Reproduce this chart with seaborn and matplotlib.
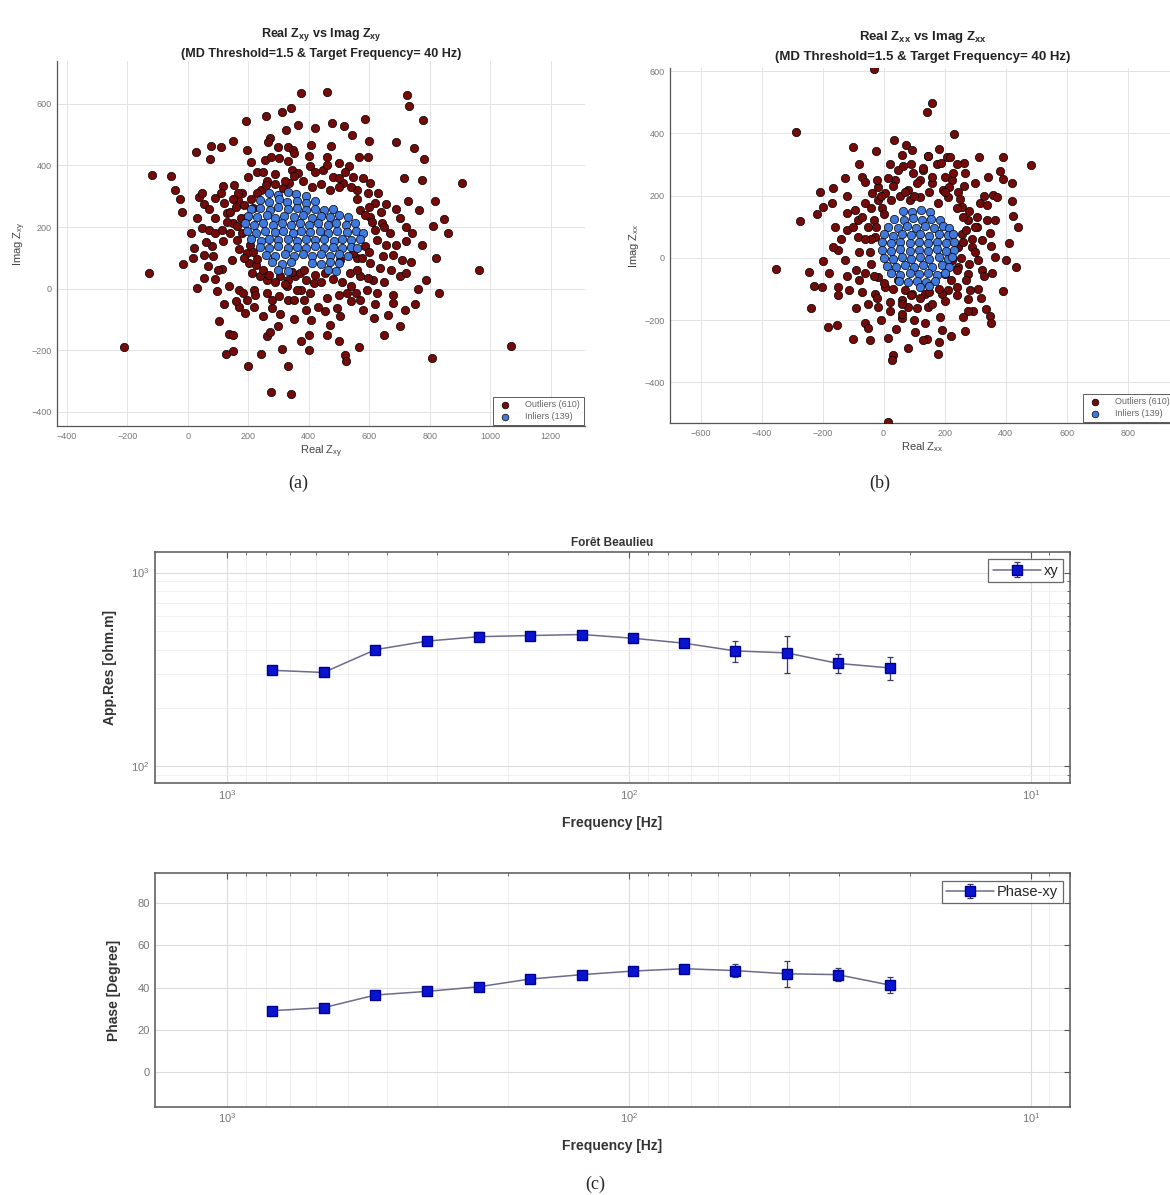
import matplotlib
matplotlib.use('Agg')
import pandas as pd
import seaborn as sns
from matplotlib import pyplot as plt

# ---- (a) Zxy: Real / Imag, outliers and inliers
a_outliers = [
    (374, 635), (313, 575), (341, 588), (192, 543), (365, 530), (324, 516), (27, 445), (77, 464),
    (111, 460), (75, 422), (195, 451), (271, 489), (266, 475), (332, 461), (349, 451), (406, 467),
    (-119, 370), (-56, 365), (-41, 321), (-26, 292), (36, 297), (46, 310), (53, 276), (90, 294),
    (118, 332), (110, 312), (153, 337), (200, 364), (255, 418), (275, 427), (303, 424), (330, 414),
    (346, 386), (365, 375), (405, 399), (120, 278), (129, 245), (165, 289), (179, 310), (48, 197),
    (72, 191), (89, 180), (113, 189), (118, 153), (149, 213), (164, 202), (181, 180), (21, 132),
    (16, 99), (-14, 81), (54, 110), (79, 137), (84, 105), (68, 75), (113, 65), (146, 94), (203, 83),
    (211, 51), (225, 77), (240, 40), (261, 29), (-129, 51), (30, 2), (54, 35), (98, -8), (135, 7),
    (168, -6), (184, -14), (218, -3), (170, -61), (195, -36), (224, -20), (278, -36), (302, -25),
    (330, -36), (278, -63), (305, -83), (352, -36), (383, -36), (374, -3), (403, -14), (105, -106),
    (137, -146), (126, -211), (151, -204), (243, -212), (263, -153), (272, -142), (310, -196),
    (376, -171), (400, -151), (406, -101), (-211, -190), (275, -336), (341, -341), (206, 143),
    (195, 115), (162, 159), (140, 180), (195, 234), (215, 262), (241, 321), (263, 348), (290, 373),
    (314, 326), (336, 343), (305, 40), (330, 29), (355, 40), (370, 51), (329, 7), (360, -3),
    (391, 29), (416, 18), (261, -14),
    (459, 638), (724, 630), (731, 592), (586, 550), (778, 546), (476, 537), (517, 527), (542, 498),
    (688, 475), (748, 456), (472, 462), (566, 427), (595, 427), (459, 427), (501, 408), (534, 397),
    (905, 343), (715, 359), (773, 353), (547, 364), (580, 359), (602, 343), (630, 312), (655, 274),
    (817, 286), (727, 286), (764, 254), (809, 204), (848, 227), (448, 386), (481, 364), (514, 343),
    (558, 321), (597, 310), (619, 278), (569, 256), (602, 234), (641, 213), (668, 180), (690, 143),
    (721, 153), (775, 143), (655, 143), (624, 159), (646, 105), (707, 92), (739, 88), (671, 61),
    (635, 67), (602, 83), (613, 29), (569, 40), (536, 51), (525, -14), (556, -14), (591, -3),
    (624, -14), (679, -20), (679, -47), (718, -71), (663, -85), (616, -94), (569, -36), (492, -63),
    (503, -90), (454, -74), (470, -117), (786, 27), (832, -14), (964, 59), (567, -188), (520, -215),
    (523, -236), (806, -225), (1068, -185), (586, 137), (558, 99), (597, 34), (547, 115), (503, 94),
    (140, 250), (160, 265), (175, 230), (150, 290), (130, 215), (170, 130), (185, 100), (215, 120),
    (230, 95), (250, 60), (270, 45), (290, 20), (320, 15), (345, 55), (385, 60), (420, 45),
    (440, 20), (455, 50), (480, 30), (510, 20), (540, 10), (560, 60), (575, 100), (600, 120),
    (620, 190), (610, 215), (585, 240), (600, 265), (560, 290), (540, 330), (500, 330), (470, 320),
    (440, 340), (410, 330), (380, 350), (350, 365), (320, 350), (290, 340), (260, 335), (230, 310),
    (210, 290), (185, 270), (165, 310), (500, 360), (520, 380), (460, 400), (420, 380), (400, 430),
    (350, 440), (300, 460), (230, 380), (210, 410), (250, 380), (640, 250), (650, 200), (700, 230),
    (690, 260), (720, 200), (740, 180), (680, 110), (700, 40), (650, 20), (620, -50), (580, -70),
    (540, -40), (500, -20), (460, -30), (430, -60), (390, -70), (350, -100), (300, -120), (250, -90),
    (220, -60), (190, -80), (160, -40), (120, -50), (90, 30), (100, 60), (60, 150), (90, 230),
    (70, 260), (30, 230), (10, 180), (-20, 250), (400, -200), (460, -150), (330, -250), (200, -250),
    (150, -150), (500, -170), (650, -150), (700, -120), (750, -50), (760, 0), (720, 50), (820, 100),
    (860, 180), (780, 420), (600, 480), (420, 520), (260, 560), (150, 480),
]
a_inliers = [
    (268, 312), (300, 305), (332, 315), (358, 308), (392, 300),
    (238, 287), (270, 282), (302, 290), (328, 280), (362, 286), (390, 278), (420, 284),
    (208, 258), (240, 262), (272, 255), (298, 264), (330, 257), (360, 262), (392, 255), (422, 260),
    (452, 254), (480, 258),
    (198, 236), (228, 232), (262, 238), (290, 230), (318, 236), (352, 232), (380, 238), (410, 230),
    (440, 236), (470, 232), (500, 238), (530, 232),
    (188, 212), (220, 207), (250, 213), (282, 208), (310, 212), (340, 206), (372, 212), (400, 207),
    (432, 213), (462, 208), (490, 212), (522, 207), (552, 212),
    (195, 186), (225, 182), (255, 188), (287, 183), (315, 187), (347, 182), (375, 188), (405, 183),
    (437, 187), (465, 182), (495, 188), (525, 183), (555, 186), (580, 180),
    (210, 160), (242, 156), (270, 162), (300, 157), (332, 161), (360, 156), (392, 162), (420, 157),
    (450, 161), (482, 156), (510, 162), (540, 157), (568, 160),
    (238, 135), (270, 131), (300, 137), (330, 132), (362, 136), (390, 131), (420, 137), (452, 132),
    (480, 136), (510, 131), (540, 136), (560, 132),
    (260, 110), (290, 106), (322, 112), (350, 107), (380, 111), (410, 106), (440, 112), (470, 107),
    (500, 111), (530, 106),
    (280, 85), (310, 81), (342, 87), (412, 84), (440, 80), (470, 86), (500, 82),
    (300, 60), (330, 56), (462, 60), (490, 56),
]

# ---- (b) Zxx
b_outliers = [
    (-30, 607), (-288, 405), (35, 378), (-99, 355), (-25, 344), (72, 362), (92, 348), (-125, 258),
    (-72, 260), (-61, 244), (-210, 212), (-167, 223), (-219, 140), (-199, 164), (-170, 177),
    (-273, 119), (-119, 143), (-94, 153), (-83, 121), (-121, 89), (-61, 175), (-17, 185), (5, 207),
    (48, 282), (62, 295), (37, 250), (16, 255), (98, 271), (81, 217), (-17, 228), (-39, 207),
    (-50, 100), (-28, 68), (-83, 68), (-148, 25), (-165, 35), (-126, -8), (-352, -36), (-244, -45),
    (-227, -91), (-203, -93), (-239, -161), (-150, -93), (-148, -120), (-115, -104), (-79, -72),
    (-61, -50), (-28, -115), (-19, -158), (21, -142), (59, -136), (81, -158), (61, -192),
    (103, -238), (-181, -222), (-154, -217), (-61, -211), (-44, -265), (-50, -227), (16, -259),
    (30, -313), (27, -329), (13, -527), (-17, -61), (5, -93), (70, -104), (48, -72), (92, -115),
    (160, 499), (143, 467), (231, 398), (144, 327), (207, 325), (218, 325), (313, 325), (392, 325),
    (483, 298), (176, 303), (267, 273), (343, 260), (392, 253), (265, 230), (130, 282), (119, 250),
    (158, 239), (201, 260), (223, 250), (196, 217), (212, 196), (360, 201), (371, 194), (420, 182),
    (316, 175), (256, 164), (425, 134), (365, 121), (338, 169), (305, 132), (278, 121), (305, 100),
    (412, 49), (351, 37), (365, 1), (401, -8), (433, -29), (321, 57), (289, 35), (310, -8),
    (354, -48), (321, -40), (278, -51), (245, -29), (240, -93), (283, -104), (310, -99), (392, -106),
    (278, -131), (294, -170), (278, -170), (335, -166), (349, -188), (352, -211), (212, -104),
    (190, -115), (136, -115), (147, -158), (185, -190), (190, -233), (267, -235), (136, -211),
    (141, -260), (130, -265), (177, -308), (223, -8), (201, -51), (245, 35), (256, 78),
    (146, 328), (188, 305), (128, 288), (228, 272), (263, 304), (215, 228), (244, 212), (177, 176),
    (86, 185), (25, 185), (55, 200), (120, 195), (150, 210), (-5, 160), (-30, 120), (240, 160),
    (260, 130), (270, 90), (260, 50), (255, 0), (240, -40), (220, -70), (180, -100), (150, -110),
    (120, -130), (90, -120), (60, -150), (30, -100), (0, -80), (-30, -60), (-40, -20), (-45, 20),
    (-40, 60), (-25, 100), (0, 140), (70, 210), (100, 200),
    (-10, 200), (30, 230), (110, 240), (160, 260), (200, 210), (250, 190), (280, 150), (300, 100),
    (290, 60), (300, 20), (280, -20), (270, -70), (240, -120), (200, -140), (160, -150), (110, -160),
    (60, -180), (20, -170), (-20, -130), (-50, -150), (-70, -110), (-90, -40), (-80, 20), (-60, 60),
    (-100, 100), (-70, 130), (-40, 160), (-20, 250), (20, 300), (90, 300), (180, 350), (240, 300),
    (300, 240), (330, 200), (340, 120), (350, 80), (330, -60), (320, -130), (260, -190), (220, -250),
    (100, -200), (40, -230), (-10, -200), (-90, -160), (-120, -60), (-140, 60), (-160, 100),
    (-120, 200), (-80, 300), (60, 330), (-200, -10), (-180, -50), (380, 280), (420, 240), (440, 100),
    (180, -270), (80, -290), (-100, -260),
]
b_inliers = [
    (62, 150), (92, 146), (122, 152), (152, 147),
    (35, 125), (66, 121), (96, 127), (126, 122), (156, 126), (185, 121),
    (15, 100), (46, 96), (76, 102), (106, 97), (136, 101), (166, 96), (195, 102), (215, 97),
    (0, 75), (30, 71), (60, 77), (90, 72), (120, 76), (150, 71), (180, 77), (210, 72), (226, 76),
    (-5, 50), (25, 46), (55, 52), (85, 47), (115, 51), (145, 46), (175, 52), (205, 47), (230, 51),
    (-5, 25), (25, 21), (55, 27), (85, 22), (115, 26), (145, 21), (175, 27), (205, 22), (230, 26),
    (0, 0), (30, -4), (60, 2), (90, -3), (120, 1), (150, -4), (180, 2), (210, -3), (225, 1),
    (10, -25), (40, -29), (70, -23), (100, -28), (130, -24), (160, -29), (190, -23), (215, -28),
    (25, -50), (55, -54), (85, -48), (115, -53), (145, -49), (175, -54), (200, -48),
    (50, -75), (80, -79), (110, -73), (140, -78), (170, -74), (120, -95), (150, -92),
]

# ---- (c) Foret Beaulieu sounding curve
freq = [772, 576, 428, 318, 236, 177, 131, 97.7, 73, 54.4, 40.6, 30.3, 22.5]
rho = [313, 305, 400, 443, 467, 473, 479, 458, 432, 394, 385, 340, 322]
rho_err = [10, 10, 14, 22, 24, 16, 14, 14, 18, 50, 83, 38, 43]
phase = [29.1, 30.5, 36.5, 38.2, 40.4, 44.0, 46.1, 47.8, 48.9, 48.0, 46.5, 46.1, 41.2]
phase_err = [1.6, 1.5, 1.5, 1.5, 1.6, 1.5, 1.5, 1.5, 1.5, 3.1, 6.2, 2.9, 3.8]

sns.set_style('white')
plt.rcParams['font.family'] = ['Liberation Sans', 'DejaVu Sans']
plt.rcParams['mathtext.fontset'] = 'custom'
plt.rcParams['mathtext.rm'] = 'Liberation Sans'
plt.rcParams['mathtext.it'] = 'Liberation Sans:italic'
plt.rcParams['mathtext.bf'] = 'Liberation Sans:bold'

fig = plt.figure(figsize=(11.7, 11.95), dpi=100)

red = '#740b0b'
blue = '#4078dc'
grid_c = '#e3e3e3'
tick_c = '#777777'


def scatter_panel(ax, outl, inl, sub):
    dfo = pd.DataFrame(outl, columns=['re', 'im'])
    dfi = pd.DataFrame(inl, columns=['re', 'im'])
    sns.scatterplot(data=dfo, x='re', y='im', color=red, s=36, edgecolor='black',
                    linewidth=0.5, label='Outliers (610)', ax=ax, zorder=3)
    sns.scatterplot(data=dfi, x='re', y='im', color=blue, s=36, edgecolor='black',
                    linewidth=0.5, label='Inliers (139)', ax=ax, zorder=4)
    ax.grid(True, color=grid_c, lw=0.7)
    ax.set_axisbelow(True)
    for s in ['top', 'right']:
        ax.spines[s].set_visible(False)
    for s in ['left', 'bottom']:
        ax.spines[s].set_color('#555555')
        ax.spines[s].set_linewidth(0.9)
    ax.tick_params(direction='in', length=3, labelsize=6.5, labelcolor=tick_c,
                   colors='#555555', pad=4)
    ax.set_xlabel(r'Real Z$_{\mathrm{%s}}$' % sub, fontsize=8, color='#444444', labelpad=2)
    ax.set_ylabel(r'Imag Z$_{\mathrm{%s}}$' % sub, fontsize=8, color='#444444', labelpad=2)
    leg = ax.legend(loc='lower right', fontsize=6.5, frameon=True, fancybox=False,
                    borderaxespad=0.15, handletextpad=1.2, borderpad=0.4,
                    labelspacing=0.3, markerscale=0.8)
    leg.get_frame().set_edgecolor('#333333')
    leg.get_frame().set_linewidth(0.7)
    for t in leg.get_texts():
        t.set_color('#666666')


# panel (a)
ax_a = fig.add_axes([57 / 1170, 1 - 426 / 1195, 528 / 1170, 365 / 1195])
scatter_panel(ax_a, a_outliers, a_inliers, 'xy')
ax_a.set_xlim(-432, 1313)
ax_a.set_ylim(-446, 739)
ax_a.set_xticks(range(-400, 1201, 200))
ax_a.set_yticks(range(-400, 601, 200))
ax_a.set_title(r'Real Z$_{\mathbf{xy}}$ vs Imag Z$_{\mathbf{xy}}$' + '\n(MD Threshold=1.5 & Target Frequency= 40 Hz)',
               fontsize=9, fontweight='bold', color='#222222', pad=3, linespacing=1.5)

# panel (b)
ax_b = fig.add_axes([670 / 1170, 1 - 423 / 1195, 505 / 1170, 355 / 1195])
scatter_panel(ax_b, b_outliers, b_inliers, 'xx')
ax_b.set_xlim(-700, 955)
ax_b.set_ylim(-531, 610)
ax_b.set_xticks(range(-600, 801, 200))
ax_b.set_yticks(range(-400, 601, 200))
ax_b.set_title(r'Real Z$_{\mathbf{xx}}$ vs Imag Z$_{\mathbf{xx}}$' + '\n(MD Threshold=1.5 & Target Frequency= 40 Hz)',
               fontsize=9.5, fontweight='bold', color='#222222', pad=6, linespacing=1.6)


def curve_panel(ax, y, yerr, lab):
    ax.errorbar(freq, y, yerr=yerr, fmt='-s', color='#6b6b8e', ecolor='#3a3a5a',
                elinewidth=0.9, capsize=2.5, capthick=0.9, lw=1.1,
                markersize=6.5, markerfacecolor='#0a14d0', markeredgecolor='#000090',
                label=lab, zorder=3)
    ax.set_xscale('log')
    ax.set_xlim(1517, 8.0)
    ax.grid(True, which='major', color='#dcdcdc', lw=0.8)
    ax.grid(True, which='minor', axis='x', color='#ececec', lw=0.6)
    ax.set_axisbelow(True)
    for s in ax.spines.values():
        s.set_color('#555555')
        s.set_linewidth(1.1)
    ax.tick_params(which='both', direction='in', top=True, right=True,
                   labelsize=8, labelcolor=tick_c, colors='#555555')
    ax.tick_params(which='major', length=4)
    ax.tick_params(which='minor', length=2.5)
    ax.set_xlabel('Frequency [Hz]', fontsize=10, fontweight='bold', color='#333333', labelpad=10)
    leg = ax.legend(loc='upper right', fontsize=10.5, frameon=True, fancybox=False,
                    borderaxespad=0.5, handlelength=3.3, handletextpad=0.2, borderpad=0.3)
    leg.get_frame().set_edgecolor('#444444')
    leg.get_frame().set_linewidth(0.9)


# panel (c) top
ax_c1 = fig.add_axes([154.6 / 1170, 1 - 783 / 1195, 915.4 / 1170, 231 / 1195])
curve_panel(ax_c1, rho, rho_err, 'xy')
ax_c1.set_yscale('log')
ax_c1.set_ylim(82, 1277)
ax_c1.grid(True, which='minor', axis='y', color='#ececec', lw=0.6)
ax_c1.set_ylabel('App.Res [ohm.m]', fontsize=10, fontweight='bold', color='#333333', labelpad=10)
ax_c1.set_title('Forêt Beaulieu', fontsize=8.5, fontweight='bold', color='#333333', pad=4)

# panel (c) bottom
ax_c2 = fig.add_axes([154.6 / 1170, 1 - 1106.7 / 1195, 915.4 / 1170, 233.4 / 1195])
curve_panel(ax_c2, phase, phase_err, 'Phase-xy')
ax_c2.set_ylim(-16.2, 93.9)
ax_c2.set_yticks(range(0, 81, 20))
ax_c2.set_ylabel('Phase [Degree]', fontsize=10, fontweight='bold', color='#333333', labelpad=12)

# sub-figure labels
for txt, x, y in [('(a)', 298, 483), ('(b)', 880, 483), ('(c)', 595, 1184)]:
    fig.text(x / 1170, 1 - y / 1195, txt, fontsize=13, family=['Liberation Serif', 'DejaVu Serif'],
             ha='center', va='center')

plt.savefig('out.png', dpi=100)
